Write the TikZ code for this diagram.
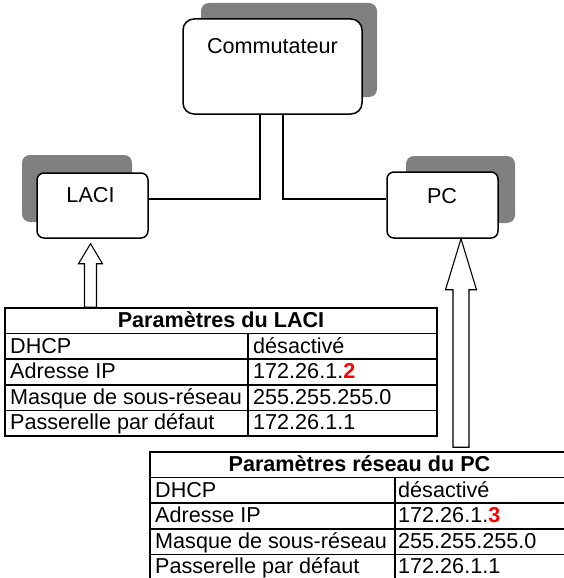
\documentclass[tikz,border=0pt]{standalone}
\usepackage{fontspec}
\setmainfont{Liberation Sans}
\usetikzlibrary{calc}
\newcommand{\dfsz}{\fontsize{21.6}{24}\selectfont}
\definecolor{shadowgray}{RGB}{128,128,128}
\definecolor{numred}{RGB}{255,0,0}
\begin{document}
\begin{tikzpicture}[x=1pt,y=-1pt,
  devbox/.style={draw=black,line width=1.5pt,fill=white,rounded corners=7pt,inner sep=0pt},
  commbox/.style={draw=black,line width=1.5pt,fill=white,rounded corners=11pt,inner sep=0pt},
  shadowbox/.style={fill=shadowgray,draw=none,rounded corners=8pt,inner sep=0pt},
  lbl/.style={font=\dfsz,inner sep=0pt,anchor=base},
  cell/.style={font=\dfsz,inner sep=0pt,anchor=base west},
  ttl/.style={font=\dfsz\bfseries,inner sep=0pt,anchor=base},
  link/.style={draw=black,line width=1.4pt},
  tblframe/.style={draw=black,line width=1.6pt,inner sep=0pt},
  tblrule/.style={draw=black,line width=1.6pt},
  hollowarrow/.style={draw=black,line width=1.1pt,fill=white,line join=miter}
]
\clip (0,0) rectangle (564,578);
\fill[white] (0,0) rectangle (564,578);

% shadows
\node[shadowbox,minimum width=176pt,minimum height=94pt] (commsh) at (289,50) {};
\node[shadowbox,minimum width=110pt,minimum height=67pt] (lacish) at (77,188.5) {};
\node[shadowbox,minimum width=109pt,minimum height=67pt] (pcsh) at (460.5,189.5) {};

% devices
\node[commbox,minimum width=179pt,minimum height=95pt] (comm) at (272.5,66.5) {};
\node[lbl] (commtxt) at (272.5,53) {Commutateur};
\node[devbox,minimum width=111pt,minimum height=65pt] (laci) at (92.5,205.5) {};
\node[lbl] (lacitxt) at (90.5,202) {LACI};
\node[devbox,minimum width=111pt,minimum height=66pt] (pc) at (442.5,205) {};
\node[lbl] (pctxt) at (442,203) {PC};

% links
\draw[link] ([xshift=-12.5pt]comm.south) |- ([yshift=6.5pt]laci.east);
\draw[link] ([xshift=10.5pt]comm.south) |- ([yshift=6pt]pc.west);

% LACI table
\node[tblframe,minimum width=432pt,minimum height=128pt] (tbl1) at (221,372) {};
\foreach \k in {1,2,3,4} {
  \draw[tblrule] (5,308+25.6*\k) -- (437,308+25.6*\k);
}
\draw[tblrule] (248,333.6) -- (248,436);
\node[ttl] (t1title) at (221,327.5) {Paramètres du LACI};
\node[cell] (t1a) at (10,353) {DHCP};
\node[cell] (t1b) at (10,378.6) {Adresse IP};
\node[cell] (t1c) at (10,404.2) {Masque de sous-réseau};
\node[cell] (t1d) at (10,429.8) {Passerelle par défaut};
\node[cell] (t1e) at (253,353) {désactivé};
\node[cell] (t1f) at (253,378.6) {172.26.1.\textcolor{numred}{\bfseries 2}};
\node[cell] (t1g) at (253,404.2) {255.255.255.0};
\node[cell] (t1h) at (253,429.8) {172.26.1.1};

% PC table
\node[tblframe,minimum width=420pt,minimum height=128pt] (tbl2) at (360,516) {};
\foreach \k in {1,2,3,4} {
  \draw[tblrule] (150,452+25.6*\k) -- (570,452+25.6*\k);
}
\draw[tblrule] (395,477.6) -- (395,580);
\node[ttl] (t2title) at (359.5,471.5) {Paramètres réseau du PC};
\node[cell] (t2a) at (155,497) {DHCP};
\node[cell] (t2b) at (155,522.6) {Adresse IP};
\node[cell] (t2c) at (155,548.2) {Masque de sous-réseau};
\node[cell] (t2d) at (155,573.8) {Passerelle par défaut};
\node[cell] (t2e) at (398,497) {désactivé};
\node[cell] (t2f) at (398,522.6) {172.26.1.\textcolor{numred}{\bfseries 3}};
\node[cell] (t2g) at (398,548.2) {255.255.255.0};
\node[cell] (t2h) at (398,573.8) {172.26.1.1};

% hollow arrows
\coordinate (a1tip) at ([xshift=-2pt,yshift=-5pt]laci.south);
\coordinate (a1base) at (tbl1.north -| a1tip);
\draw[hollowarrow] (a1tip) -- ++(12,20) -- ++(-6,0) -- ($(a1base)+(6,0)$)
  -- ($(a1base)+(-6,0)$) -- ($(a1tip)+(-6,20)$) -- ++(-6,0) -- cycle;
\coordinate (a2tip) at ([xshift=18.5pt]pc.south);
\coordinate (a2base) at ([yshift=4pt]tbl2.north -| a2tip);
\draw[hollowarrow] (a2tip) -- ++(15.5,51) -- ++(-7.5,0) -- ($(a2base)+(8,0)$)
  -- ($(a2base)+(-8,0)$) -- ($(a2tip)+(-8,51)$) -- ++(-7.5,0) -- cycle;
\end{tikzpicture}
\end{document}
